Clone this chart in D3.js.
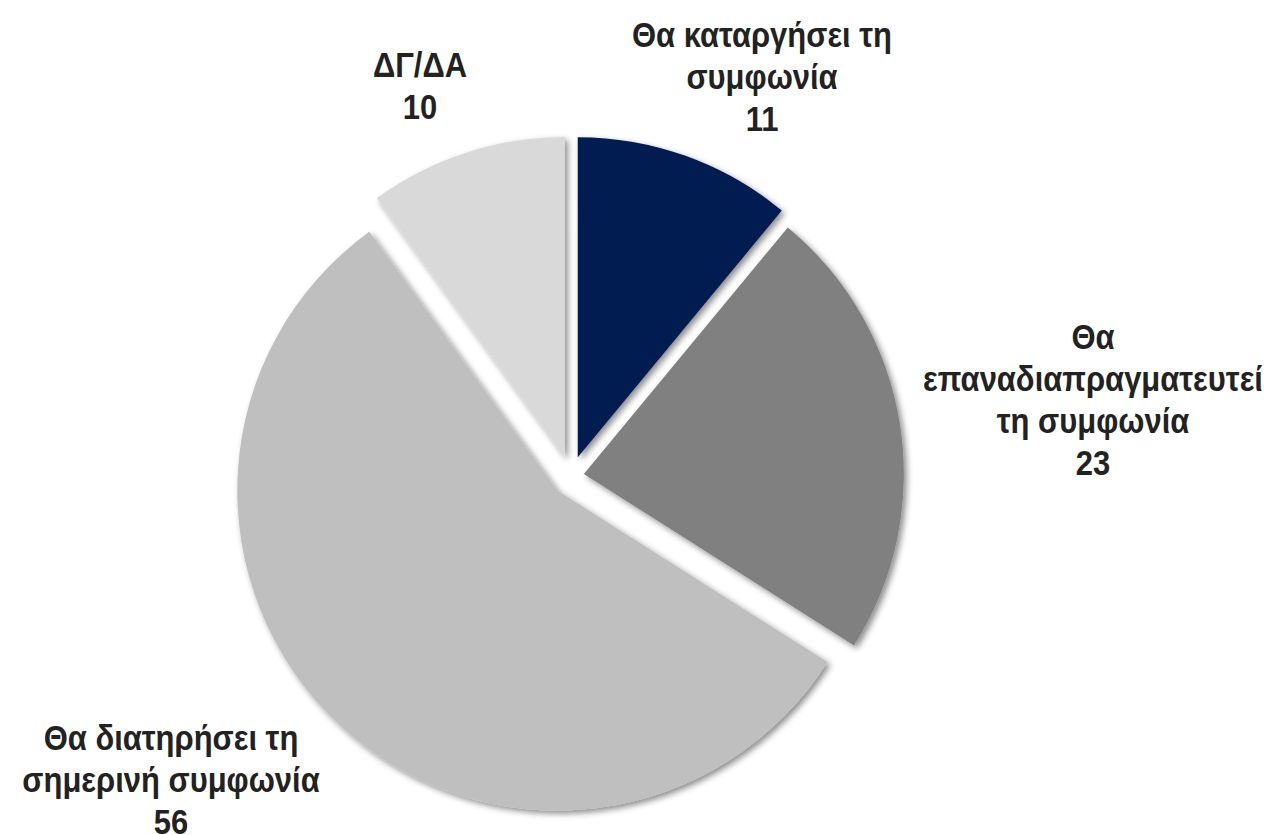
<!DOCTYPE html>
<html>
<head>
<meta charset="utf-8">
<script src="https://cdn.jsdelivr.net/npm/d3@7"></script>
<style>
  body { margin: 0; background: #fff; }
  .lbl text { font-family: "Liberation Sans", Arial, sans-serif; font-weight: bold; font-size: 36px; fill: #222; }
</style>
</head>
<body>
<svg width="1269" height="835"></svg>
<script>
// data
const categories = ["Θα καταργήσει τη συμφωνία", "Θα επαναδιαπραγματευτεί τη συμφωνία", "Θα διατηρήσει τη σημερινή συμφωνία", "ΔΓ/ΔΑ"]
const values = [11, 23, 56, 10]
const labelLines = [
    ["Θα καταργήσει τη", "συμφωνία"],
    ["Θα", "επαναδιαπραγματευτεί", "τη συμφωνία"],
    ["Θα διατηρήσει τη", "σημερινή συμφωνία"],
    ["ΔΓ/ΔΑ"]
]
const colors = ["#011a51", "#808080", "#bfbfbf", "#d9d9d9"]

// layout
const cx = 571, cy = 476, radius = 320
const explode = [20, 13, 20, 20]
const labelPos = [[762, 47], [1093, 349], [171, 750], [420, 77]]
const lineH = 42
const squeeze = 0.86

const svg = d3.select("svg")

const defs = svg.append("defs")
const f = defs.append("filter").attr("id", "shadow")
    .attr("x", "-20%").attr("y", "-20%").attr("width", "140%").attr("height", "140%")
f.append("feDropShadow").attr("dx", 3).attr("dy", 3).attr("stdDeviation", 3)
    .attr("flood-color", "#000").attr("flood-opacity", 0.45)

const pie = d3.pie().sort(null).value(d => d)
const arc = d3.arc().innerRadius(0).outerRadius(radius)
const arcs = pie(values)

svg.append("g")
    .attr("transform", `translate(${cx},${cy})`)
    .selectAll("path")
    .data(arcs)
    .enter()
    .append("path")
    .attr("d", arc)
    .attr("fill", (d, i) => colors[i])
    .attr("filter", "url(#shadow)")
    .attr("transform", (d, i) => {
        // pull each slice out along its middle angle
        const a = (d.startAngle + d.endAngle) / 2
        return `translate(${explode[i] * Math.sin(a)},${-explode[i] * Math.cos(a)})`
    })

// labels: name lines then value
const lbl = svg.selectAll("g.lbl")
    .data(arcs)
    .enter()
    .append("g")
    .attr("class", "lbl")
    .attr("transform", (d, i) => `translate(${labelPos[i][0]},${labelPos[i][1]}) scale(${squeeze},1)`)

lbl.each(function(d, i) {
    const lines = labelLines[i].concat([String(d.data)])
    d3.select(this).selectAll("text")
        .data(lines)
        .enter()
        .append("text")
        .attr("text-anchor", "middle")
        .attr("y", (t, j) => j * lineH)
        .text(t => t)
})
</script>
</body>
</html>
